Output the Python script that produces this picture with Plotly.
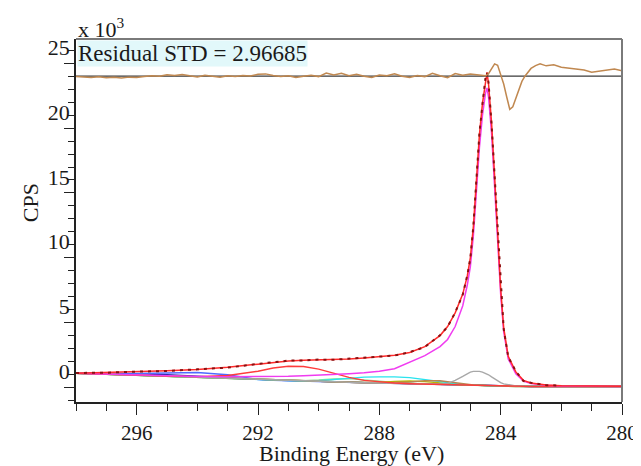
import plotly.graph_objects as go

# ---------------- data ----------------
energy = [298, 297, 296, 295, 294, 293, 292, 291.5, 291, 290.5, 290, 289.5, 289, 288.5, 288,
          287.5, 287, 286.5, 286, 285.75, 285.5, 285.25, 285.1, 285.0, 284.9, 284.8, 284.7,
          284.6, 284.5, 284.45, 284.4, 284.3, 284.2, 284.1, 284.0, 283.9, 283.75, 283.5,
          283.25, 283, 282.5, 282, 281, 280]

background = [1.10, 1.02, 0.94, 0.86, 0.78, 0.70, 0.60, 0.56, 0.52, 0.49, 0.46, 0.43, 0.40, 0.37, 0.34,
              0.31, 0.28, 0.26, 0.24, 0.23, 0.22, 0.21, 0.20, 0.20, 0.19, 0.18, 0.17,
              0.16, 0.15, 0.14, 0.13, 0.12, 0.11, 0.10, 0.10, 0.09, 0.09, 0.08,
              0.08, 0.08, 0.08, 0.08, 0.08, 0.08]

envelope = [1.10, 1.15, 1.20, 1.28, 1.38, 1.55, 1.80, 1.95, 2.05, 2.10, 2.13, 2.16, 2.20, 2.28, 2.36,
            2.48, 2.70, 3.15, 4.00, 4.70, 5.75, 7.20, 8.60, 10.0, 12.4, 16.3, 19.5,
            21.9, 23.8, 24.3, 23.4, 20.4, 16.3, 12.0, 7.6, 4.6, 2.4, 1.2,
            0.55, 0.35, 0.20, 0.14, 0.10, 0.09]

measured = [1.12, 1.14, 1.22, 1.27, 1.40, 1.53, 1.82, 1.93, 2.07, 2.08, 2.15, 2.14, 2.22, 2.26, 2.38,
            2.46, 2.72, 3.12, 4.03, 4.68, 5.78, 7.15, 8.65, 9.95, 12.45, 16.2, 19.6,
            21.85, 23.9, 24.25, 23.5, 20.3, 16.4, 11.9, 7.7, 4.5, 2.35, 1.25,
            0.50, 0.37, 0.18, 0.15, None, None]

comp_cc = [1.10, 1.03, 0.96, 0.90, 0.85, 0.82, 0.82, 0.84, 0.87, 0.91, 0.95, 1.00, 1.06, 1.13, 1.25,
           1.45, 1.95, 2.45, 3.15, 3.70, 4.70, 6.30, 7.90, 9.30, 11.7, 15.2, 18.5,
           21.0, 22.7, 23.1, 22.4, 19.6, 15.6, 11.4, 7.2, 4.3, 2.2, 1.05,
           0.50, 0.30, 0.17, 0.12, 0.09, 0.08]

comp_red = [1.10, 1.02, 0.95, 0.88, 0.84, 0.92, 1.25, 1.50, 1.64, 1.62, 1.42, 1.12, 0.78, 0.55, 0.42,
            0.34, 0.29, 0.26, 0.24, 0.23, 0.22, 0.21, 0.20, 0.20, 0.19, 0.18, 0.17,
            0.16, 0.15, 0.14, 0.13, 0.12, 0.11, 0.10, 0.10, 0.09, 0.09, 0.08,
            0.08, 0.08, 0.08, 0.08, 0.08, 0.08]

comp_blue = [1.10, 1.08, 1.08, 1.12, 1.16, 0.98, 0.62, 0.56, 0.52, 0.49, 0.46, 0.43, 0.40, 0.37, 0.34,
             0.31, 0.28, 0.26, 0.24, 0.23, 0.22, 0.21, 0.20, 0.20, 0.19, 0.18, 0.17,
             0.16, 0.15, 0.14, 0.13, 0.12, 0.11, 0.10, 0.10, 0.09, 0.09, 0.08,
             0.08, 0.08, 0.08, 0.08, 0.08, 0.08]

comp_navy = [1.10, 1.06, 1.04, 0.98, 0.86, 0.73, 0.62, 0.57, 0.53, 0.50, 0.46, 0.43, 0.40, 0.37, 0.34,
             0.31, 0.28, 0.26, 0.24, 0.23, 0.22, 0.21, 0.20, 0.20, 0.19, 0.18, 0.17,
             0.16, 0.15, 0.14, 0.13, 0.12, 0.11, 0.10, 0.10, 0.09, 0.09, 0.08,
             0.08, 0.08, 0.08, 0.08, 0.08, 0.08]

comp_cyan = [1.10, 1.02, 0.94, 0.86, 0.78, 0.70, 0.60, 0.56, 0.52, 0.50, 0.52, 0.60, 0.72, 0.80, 0.82,
             0.82, 0.76, 0.60, 0.42, 0.34, 0.28, 0.23, 0.21, 0.21, 0.20, 0.18, 0.17,
             0.16, 0.15, 0.14, 0.13, 0.12, 0.11, 0.10, 0.10, 0.09, 0.09, 0.08,
             0.08, 0.08, 0.08, 0.08, 0.08, 0.08]

comp_green = [1.10, 1.02, 0.94, 0.86, 0.78, 0.70, 0.60, 0.56, 0.53, 0.53, 0.58, 0.66, 0.68, 0.60, 0.48,
              0.38, 0.31, 0.27, 0.24, 0.23, 0.22, 0.21, 0.20, 0.20, 0.19, 0.18, 0.17,
              0.16, 0.15, 0.14, 0.13, 0.12, 0.11, 0.10, 0.10, 0.09, 0.09, 0.08,
              0.08, 0.08, 0.08, 0.08, 0.08, 0.08]

comp_olive = [1.10, 1.02, 0.94, 0.86, 0.78, 0.70, 0.60, 0.56, 0.52, 0.49, 0.46, 0.43, 0.40, 0.38, 0.38,
              0.46, 0.50, 0.45, 0.34, 0.29, 0.24, 0.21, 0.20, 0.20, 0.19, 0.18, 0.17,
              0.16, 0.15, 0.14, 0.13, 0.12, 0.11, 0.10, 0.10, 0.09, 0.09, 0.08,
              0.08, 0.08, 0.08, 0.08, 0.08, 0.08]

comp_brown = [1.10, 1.02, 0.94, 0.86, 0.78, 0.70, 0.60, 0.56, 0.52, 0.49, 0.46, 0.43, 0.40, 0.37, 0.35,
              0.36, 0.42, 0.53, 0.52, 0.44, 0.35, 0.27, 0.23, 0.21, 0.19, 0.18, 0.17,
              0.16, 0.15, 0.14, 0.13, 0.12, 0.11, 0.10, 0.10, 0.09, 0.09, 0.08,
              0.08, 0.08, 0.08, 0.08, 0.08, 0.08]

comp_gray = [1.10, 1.02, 0.94, 0.86, 0.78, 0.70, 0.60, 0.56, 0.52, 0.49, 0.46, 0.43, 0.40, 0.37, 0.34,
             0.31, 0.28, 0.26, 0.25, 0.32, 0.55, 0.85, 1.08, 1.18, 1.24, 1.26, 1.24,
             1.18, 1.10, 1.05, 0.98, 0.82, 0.66, 0.50, 0.38, 0.28, 0.20, 0.12,
             0.09, 0.08, 0.08, 0.08, 0.08, 0.08]

resid_energy = [298, 297.75, 297.5, 297.25, 297, 296.75, 296.5, 296.25, 296, 295.75, 295.5, 295.25,
                295, 294.75, 294.5, 294.25, 294, 293.75, 293.5, 293.25, 293, 292.75, 292.5, 292.25,
                292, 291.75, 291.5, 291.25, 291, 290.75, 290.5, 290.25, 290, 289.75, 289.5, 289.25,
                289, 288.75, 288.5, 288.25, 288, 287.75, 287.5, 287.25, 287, 286.75, 286.5, 286.25,
                286, 285.75, 285.5, 285.25, 285, 284.75, 284.5, 284.4, 284.3, 284.2, 284.1, 284.0,
                283.9, 283.8, 283.7, 283.6, 283.5, 283.4, 283.3, 283.2, 283.1, 283.0, 282.85, 282.7,
                282.5, 282.25, 282.0, 281.75, 281.5, 281.25, 281.0, 280.75, 280.5, 280.25, 280.0]

resid_plot = [23.97, 23.93, 23.90, 23.95, 23.88, 23.92, 23.86, 23.93, 23.90, 23.97, 24.03, 23.99,
              24.12, 24.06, 24.13, 24.03, 23.95, 24.08, 23.99, 23.93, 24.03, 23.97, 24.06, 24.01,
              24.15, 24.18, 24.06, 23.97, 24.03, 23.91, 24.00, 24.07, 23.97, 24.25, 24.09, 24.22,
              24.03, 24.15, 24.00, 23.90, 24.10, 24.03, 24.18, 24.00, 23.91, 24.06, 23.97, 24.22,
              24.03, 23.88, 24.20, 24.07, 24.18, 24.12, 24.03, 24.20, 24.55, 24.95, 24.85, 24.15,
              23.40, 22.40, 21.45, 21.65, 22.35, 23.05, 23.60, 24.00, 24.30, 24.60, 24.82, 24.95,
              24.80, 24.88, 24.70, 24.62, 24.55, 24.48, 24.30, 24.38, 24.42, 24.55, 24.42]

resid_zero = 24.0
x_range = [298, 280]
y_range = [-1.12, 26.87]
x_ticks = [296, 292, 288, 284, 280]
y_ticks = [0, 5, 10, 15, 20, 25]

# ---------------- figure ----------------
FONT = "Liberation Serif, Times New Roman, serif"
fig = go.Figure()

def add(y, color, width=1.3, dash="solid"):
    fig.add_trace(go.Scatter(x=energy, y=y, mode="lines",
                             line=dict(color=color, width=width, dash=dash),
                             hoverinfo="skip"))

add(background, "#c49a6c", 1.6)
add(comp_navy, "#2a2aa8", 1.4)
add(comp_blue, "#4f6bff", 1.4)
add(comp_green, "#8ee08e", 1.4)
add(comp_olive, "#b8b800", 1.4)
add(comp_cyan, "#29e3ee", 1.4)
add(comp_brown, "#b98450", 1.4)
add(comp_gray, "#a8a8a8", 1.4)
add(comp_red, "#ff3b3b", 1.4)
add(comp_cc, "#f03cf0", 1.5)
add(envelope, "#ff2a2a", 1.5)
add(measured, "#8b1010", 2.0, "3px,5px")

fig.add_trace(go.Scatter(x=x_range, y=[resid_zero, resid_zero], mode="lines",
                         line=dict(color="#3a3a3a", width=1.3), hoverinfo="skip"))
fig.add_trace(go.Scatter(x=resid_energy, y=resid_plot, mode="lines",
                         line=dict(color="#c08850", width=1.5), hoverinfo="skip"))

# the page adds an 8 px body margin, so the figure is made smaller and offset
fig.update_layout(
    width=633, height=458,
    margin=dict(l=68, r=19, t=31, b=64, autoexpand=False),
    paper_bgcolor="white", plot_bgcolor="white",
    showlegend=False,
    font=dict(family=FONT, size=22, color="#1a1a1a"),
    xaxis=dict(range=x_range, tickvals=x_ticks, showgrid=False, zeroline=False,
               automargin=False,
               showline=True, linecolor="#222", linewidth=1.5,
               ticks="outside", ticklen=11, tickwidth=1.3, tickcolor="#222",
               tickfont=dict(family=FONT, size=21),
               minor=dict(dtick=1, tick0=280, ticks="outside", ticklen=7, tickwidth=1.3, tickcolor="#222")),
    yaxis=dict(range=y_range, tickvals=y_ticks, showgrid=False, zeroline=False,
               automargin=False,
               showline=True, linecolor="#222", linewidth=1.5,
               ticks="outside", ticklen=10, tickwidth=1.3, tickcolor="#222",
               ticklabelposition="outside top",
               tickfont=dict(family=FONT, size=22),
               minor=dict(dtick=1, tick0=0, ticks="outside", ticklen=6, tickwidth=1.3, tickcolor="#222")),
    shapes=[
        dict(type="line", xref="paper", yref="paper", x0=0, x1=1, y0=1, y1=1,
             line=dict(color="#7a7a7a", width=2)),
        dict(type="line", xref="paper", yref="paper", x0=1, x1=1, y0=0, y1=1,
             line=dict(color="#7a7a7a", width=2)),
    ],
    annotations=[
        dict(text="x 10<sup>3</sup>", xref="paper", yref="paper", x=0, y=1,
             xanchor="left", yanchor="bottom", showarrow=False, yshift=-5,
             font=dict(family=FONT, size=22)),
        dict(text="Residual STD = 2.96685", xref="paper", yref="paper", x=0.002, y=0.998,
             xanchor="left", yanchor="top", showarrow=False, bgcolor="#e2f8fa",
             borderpad=0, font=dict(family=FONT, size=23)),
        dict(text="Binding Energy (eV)", xref="paper", yref="paper", x=0.504, y=-0.142,
             xanchor="center", yanchor="middle", showarrow=False,
             font=dict(family=FONT, size=22)),
        dict(text="CPS", xref="paper", yref="paper", x=-0.084, y=0.548, textangle=-90,
             xanchor="center", yanchor="middle", showarrow=False,
             font=dict(family=FONT, size=22)),
    ],
)

fig.write_html("out.html")
